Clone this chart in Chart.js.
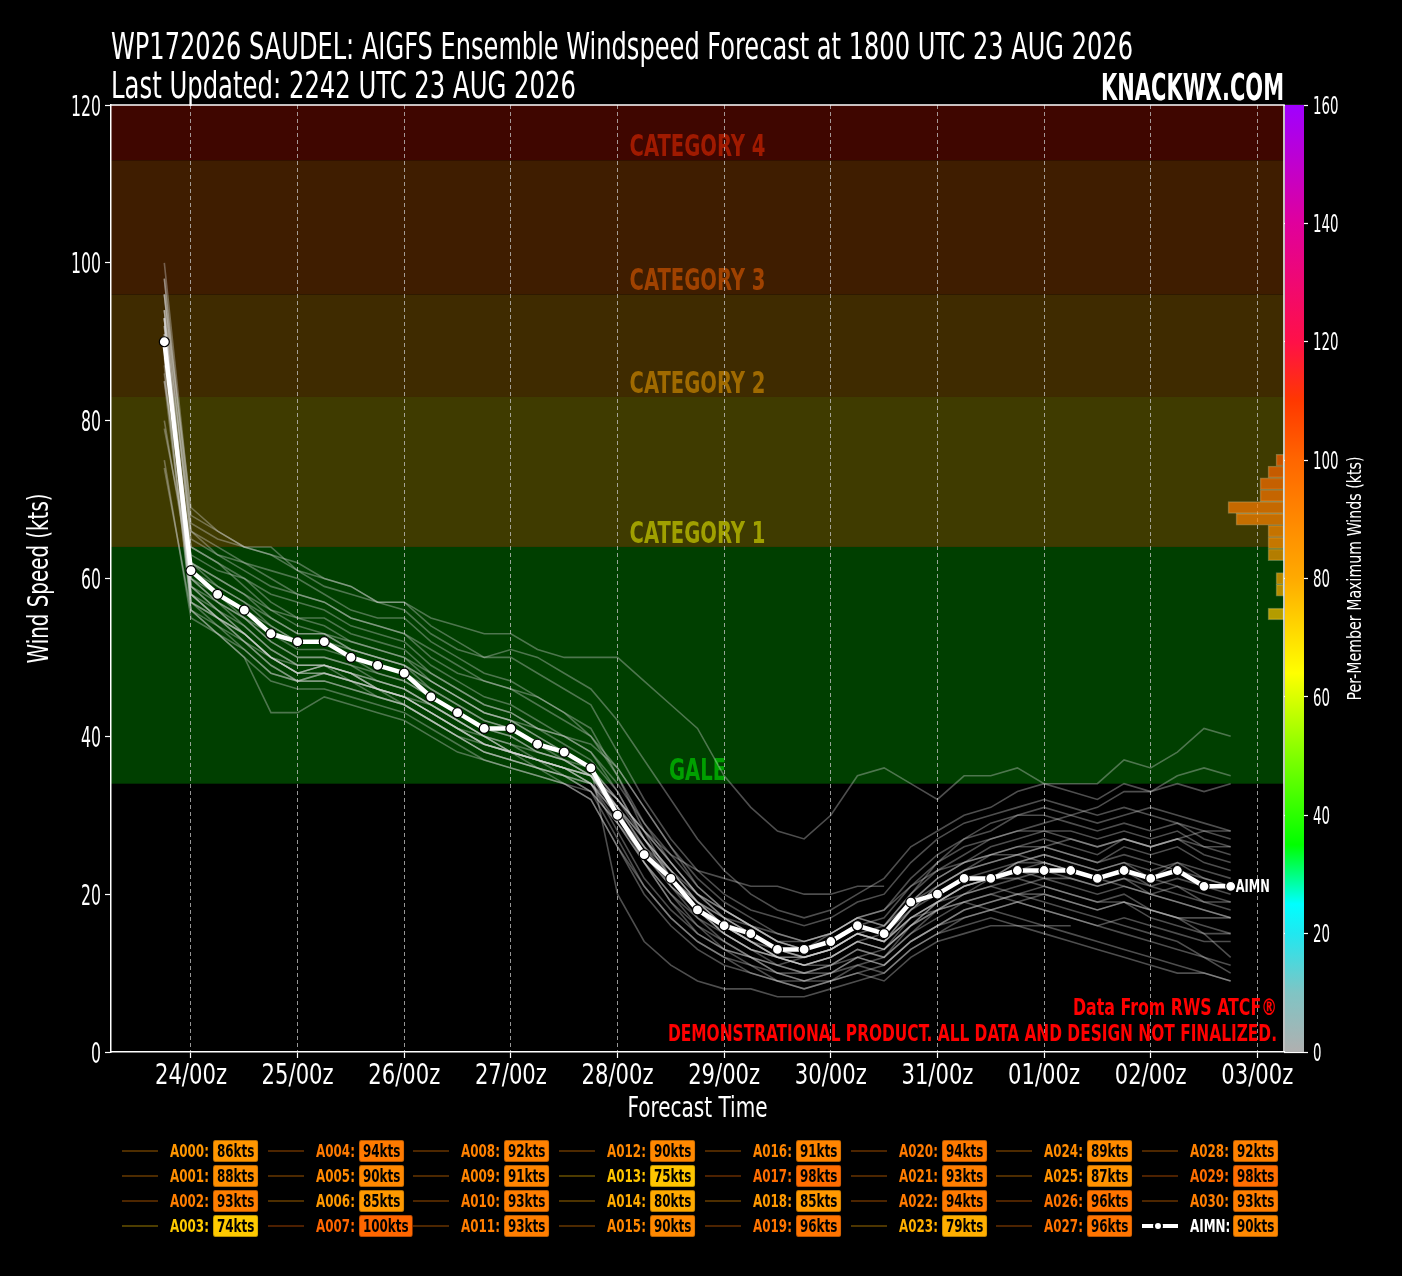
<!DOCTYPE html>
<html>
<head>
<meta charset="utf-8">
<script src="https://cdn.jsdelivr.net/npm/chart.js@4.4.1/dist/chart.umd.min.js"></script>
<style>
  html, body { margin: 0; padding: 0; background: #000; }
  #wrap { position: relative; width: 1402px; height: 1276px; }
  #legend { position: absolute; left: 0; top: 0; width: 1402px; height: 1276px; pointer-events: none;
            font-family: 'DejaVu Sans Condensed', 'Liberation Sans Narrow', 'DejaVu Sans', sans-serif; }
  .lg { position: absolute; height: 22px; width: 150px; }
  .lg-line { position: absolute; left: 0; top: 10px; width: 36px; height: 2px; }
  .lg-name { position: absolute; left: 48px; top: 0; line-height: 22px; font-size: 17px; font-weight: bold;
             transform: scaleX(0.78); transform-origin: 0 50%; white-space: nowrap; }
  .lg-box { position: absolute; left: 91px; top: 0; height: 20px; line-height: 20px; padding: 0 4px;
            font-size: 17px; font-weight: bold; color: #000; border: 1px solid rgba(0,0,0,0.28); border-radius: 3px;
            transform: scaleX(0.78); transform-origin: 0 50%; white-space: nowrap; }
  .lg-dot { position: absolute; left: 11px; top: -5px; width: 10px; height: 10px; border-radius: 50%;
            background: #fff; border: 2px solid #000; box-sizing: border-box; }
</style>
</head>
<body>
<div id="wrap">
  <canvas id="chart" width="1402" height="1276"></canvas>
  <div id="legend"></div>
</div>
<script>
// forecast hours from 23/18z
var hours = [0,6,12,18,24,30,36,42,48,54,60,66,72,78,84,90,96,102,108,114,120,
             126,132,138,144,150,156,162,168,174,180,186,192,198,204,210,216,222,228,234,240];
var tickHours = [6,30,54,78,102,126,150,174,198,222,246];
var tickLabels = ["24/00z","25/00z","26/00z","27/00z","28/00z","29/00z","30/00z","31/00z","01/00z","02/00z","03/00z"];

// ensemble mean
var meanName = "AIMN";
var meanWinds = [90, 61,58,56,53, 52,52,50,49, 48,45,43,41, 41,39,38,36, 30,25,22,18,
                 16,15,13,13, 14,16,15,19, 20,22,22,23, 23,23,22,23, 22,23,21,21];

// members (kts, 6-hourly)
var A000 = [86, 58,55,52,50, 48,49,48,47, 46,44,42,40, 38,37,36,35, 30,25,21,18, 15,13,12,11, 12,14,13,17, 19,21,22,23, 22,21,20,21, 20,21,19,18];
var A001 = [88, 63,61,60,58, 57,56,54,53, 52,49,47,45, 44,42,40,38, 33,27,23,19, 17,16,14,13, 15,17,16,20, 24,26,27,28, 28,27,26,27, 26,27,25,24];
var A002 = [93, 57,54,51,48, 47,48,47,46, 45,43,41,39, 38,37,36,34, 28,22,18,15, 13,12,10,10, 11,13,12,15, 17,19,20,21, 22,22,21,22, 20,19,18,17];
var A003 = [74, 56,53,51,48, 47,47,46,45, 44,42,40,38, 37,36,35,34, 31,26,21,17, 14,12,11,12, 13,15,14,18, 21,23,24,25, 26,25,24,25, 24,23,22,21];
var A004 = [94, 66,64,62,61, 60,58,56,55, 55,52,50,48, 47,45,43,40, 36,31,26,21, 18,16,14,14, 15,17,18,22, 25,27,29,30, 30,29,28,29, 28,29,27,26];
var A005 = [90, 58,55,53,50, 48,49,48,46, 45,43,41,39, 38,37,36,34, 29,24,20,16, 14,12,10,9, 10,12,11,14, 16,18,19,20, 21,20,19,20, 18,17,16,15];
var A006 = [85, 64,62,60,57, 55,54,52,51, 50,47,45,43, 42,40,38,36, 32,28,24,20, 17,15,13,13, 14,16,15,19, 22,24,25,26, 26,25,24,26, 25,26,24,23];
var A007 = [100, 68,66,64,63, 61,60,59,57, 57,54,52,50, 50,48,46,44, 38,32,27,23, 20,18,17,16, 17,19,20,24, 27,29,30,31, 32,31,30,31, 30,29,28,28];
var A008 = [92, 60,58,56,54, 52,52,51,50, 49,47,45,43, 42,40,38,36, 31,24,19,15, 13,11,10,9, 9,10,9,12, 14,15,16,16, 16,16,null,null, null,null,null,null];
var A009 = [91, 59,56,54,51, 49,49,47,46, 45,43,41,39, 38,37,35,33, 27,21,17,14, 12,11,9,8, 9,11,12,16, 19,21,22,24, 25,24,23,24, 22,21,20,19];
var A010 = [93, 57,55,53,50, 48,48,47,46, 44,42,40,38, 37,36,35,33, 29,25,22,19, 17,15,13,12, 13,15,14,17, 18,19,18,17, 16,15,14,13, 12,11,10,9];
var A011 = [93, 56,54,52,49, 47,48,47,45, 44,42,40,39, 38,36,35,34, 30,26,23,20, 18,16,15,14, 15,17,16,19, 21,23,24,25, 26,27,26,27, 26,27,28,27];
var A012 = [90, 58,56,53,50, 49,49,48,46, 45,43,41,40, 38,37,36,35, 31,27,22,18, 15,13,11,10, 10,11,10,13, 15,17,18,19, 20,19,18,19, 18,17,15,12];
var A013 = [75, 55,53,50,47, 46,46,45,44, 43,41,39,37, 36,35,34,32, 26,20,16,13, 11,10,9,9, 10,12,13,16, 18,20,21,22, 23,22,21,22, 21,22,21,20];
var A014 = [80, 60,57,55,53, 51,51,50,48, 47,45,43,41, 40,38,37,35, 32,28,25,23, 22,21,21,20, 20,21,21,null, null,null,null,null, null,null,null,null, null,null,null,null];
var A015 = [90, 60,57,55,52, 50,50,49,47, 46,44,42,40, 39,38,37,35, 30,24,19,16, 13,12,11,10, 11,13,12,15, 18,20,22,23, 24,23,22,23, 22,24,23,22];
var A016 = [91, 59,57,54,51, 49,49,48,46, 45,44,42,40, 38,37,36,35, 32,28,24,20, 18,16,14,13, 14,16,15,18, 20,22,23,24, 24,23,22,23, 21,20,19,19];
var A017 = [98, 67,65,64,63, 62,60,59,57, 57,55,54,53, 53,51,50,50, 50,47,44,41, 35,31,28,27, 30,35,36,34, 32,35,35,36, 34,34,34,37, 36,38,41,40];
var A018 = [85, 57,55,52,49, 47,47,46,45, 44,42,40,38, 37,36,34,32, 26,21,17,14, 12,10,9,8, 9,10,11,14, 16,17,18,19, 18,17,16,17, 16,15,14,14];
var A019 = [96, 65,63,61,59, 58,57,55,54, 53,51,49,47, 46,44,42,40, 35,29,24,20, 17,15,13,12, 13,15,16,20, 23,25,27,28, 29,30,29,30, 31,30,29,28];
var A020 = [94, 61,58,55,52, 50,50,49,48, 47,45,43,41, 40,38,37,36, 32,27,23,19, 16,14,12,11, 12,14,13,16, 19,21,22,24, 25,24,23,24, 23,24,22,21];
var A021 = [93, 58,55,53,50, 48,49,48,47, 46,44,42,40, 39,37,36,34, 30,25,21,18, 16,14,12,11, 12,14,15,19, 22,24,26,27, 28,28,27,28, 27,28,26,25];
var A022 = [94, 62,60,58,56, 55,55,53,52, 51,48,46,44, 43,41,40,38, 34,29,25,21, 18,16,14,13, 14,16,17,21, 24,27,28,30, 31,30,31,33, 33,35,36,35];
var A023 = [79, 62,60,58,55, 53,53,51,50, 49,47,45,43, 42,41,40,39, 36,31,26,22, 19,17,15,14, 15,17,18,21, 23,24,25,25, 24,23,22,21, 20,19,18,17];
var A024 = [89, 61,59,57,54, 52,52,50,49, 48,46,44,42, 41,39,38,36, 20,14,11,9, 8,8,7,7, 8,9,10,13, 15,16,17,16, 15,14,13,12, 11,10,10,9];
var A025 = [87, 56,53,50,43, 43,45,44,43, 42,40,38,37, 36,35,34,33, 29,24,20,17, 15,13,12,12, 13,15,14,17, 19,20,21,20, 19,18,17,16, 15,14,12,11];
var A026 = [96, 69,66,64,64, 61,59,58,57, 56,53,51,50, 51,50,48,46, 42,37,32,27, 23,20,18,17, 18,20,22,26, 28,30,31,33, 34,33,32,34, 33,34,33,34];
var A027 = [96, 64,62,59,56, 54,53,51,50, 49,46,44,42, 41,39,37,35, 31,27,23,19, 16,14,12,12, 13,15,14,17, 19,21,22,22, 21,20,19,19, 18,17,17,17];
var A028 = [92, 59,56,53,50, 48,48,47,46, 45,43,41,39, 38,37,36,35, 31,26,22,19, 16,14,12,11, 11,12,11,14, 16,18,19,20, 20,19,18,19, 17,16,15,15];
var A029 = [98, 66,63,62,60, 58,57,55,54, 53,50,48,47, 46,45,43,41, 35,28,22,18, 15,13,12,11, 12,14,13,16, 18,19,20,19, 18,17,16,15, 14,13,12,10];
var A030 = [93, 62,59,57,55, 53,53,52,51, 50,48,46,44, 43,41,39,37, 33,27,22,18, 16,14,13,12, 13,15,14,18, 21,23,25,26, 27,26,25,27, 26,27,26,26];

var memberSeries = [A000,A001,A002,A003,A004,A005,A006,A007,A008,A009,A010,A011,A012,A013,A014,A015,
                    A016,A017,A018,A019,A020,A021,A022,A023,A024,A025,A026,A027,A028,A029,A030];
var memberNames = ["A000","A001","A002","A003","A004","A005","A006","A007","A008","A009","A010","A011","A012","A013","A014","A015",
                   "A016","A017","A018","A019","A020","A021","A022","A023","A024","A025","A026","A027","A028","A029","A030"];
var memberMax = [86,88,93,74,94,90,85,100,92,91,93,93,90,75,80,90,91,98,85,96,94,93,94,79,89,87,96,96,92,98,93];

// per-member max wind histogram (colorbar scale, 2 kt bins)
var histBins = [101,99,97,95,93,91,89,87,85,81,79,75];
var histCounts = [1,2,3,3,7,6,2,2,2,1,1,2];
var histBinWidth = 2;

// intensity bands
var bandEdges = [0,34,64,83,96,113,120];
var bandNames = ["","GALE","CATEGORY 1","CATEGORY 2","CATEGORY 3","CATEGORY 4"];
var bandFills = ["#000000","#003f00","#3f3b00","#3f2b00","#3f1d00","#3f0600"];
var bandTextColors = ["","#00a000","#a0a000","#a06a00","#a04200","#a01a00"];

// colorbar
var cmapValues = [0,10,20,25,35,50,64,80,100,110,120,140,160];
var cmapColors = ["#b0b0b0","#80c4c4","#20e8f0","#00ffff","#00ff00","#80ff00","#ffff00","#ffaa00","#ff6600","#ff3800","#ff1048","#e0009c","#a000ff"];

var FONT_DRAW = "'DejaVu Sans Condensed', 'DejaVu Sans', sans-serif";

function hexRgb(h) {
  return [parseInt(h.substr(1,2),16), parseInt(h.substr(3,2),16), parseInt(h.substr(5,2),16)];
}
function cmapRgb(v) {
  if (v <= cmapValues[0]) return hexRgb(cmapColors[0]);
  for (var i = 1; i < cmapValues.length; i++) {
    if (v <= cmapValues[i]) {
      var t = (v - cmapValues[i-1]) / (cmapValues[i] - cmapValues[i-1]);
      var a = hexRgb(cmapColors[i-1]), b = hexRgb(cmapColors[i]);
      return [0,1,2].map(function(k) { return Math.round(a[k] + (b[k] - a[k]) * t); });
    }
  }
  return hexRgb(cmapColors[cmapColors.length - 1]);
}
function cmap(v, alpha) {
  var c = cmapRgb(v);
  return 'rgba(' + c[0] + ',' + c[1] + ',' + c[2] + ',' + (alpha == null ? 1 : alpha) + ')';
}

// text squeezed horizontally to mimic the condensed face of the original
function drawText(ctx, text, x, y, o) {
  ctx.save();
  ctx.font = (o.weight || 'normal') + ' ' + o.size + 'px ' + FONT_DRAW;
  ctx.fillStyle = o.color || '#fff';
  ctx.textBaseline = o.baseline || 'alphabetic';
  ctx.textAlign = o.align || 'left';
  var sx = o.width ? o.width / ctx.measureText(text).width : (o.sx || 1);
  ctx.translate(x, y);
  if (o.rotate) ctx.rotate(o.rotate);
  ctx.scale(sx, 1);
  ctx.fillText(text, 0, 0);
  ctx.restore();
}
function digitScale(ctx, size, digitWidth) {
  ctx.save();
  ctx.font = size + 'px ' + FONT_DRAW;
  var w = ctx.measureText('0').width;
  ctx.restore();
  return digitWidth / w;
}

function toPoints(arr) {
  return hours.map(function(h, i) { return {x: h, y: arr[i]}; });
}

var bandsPlugin = {
  id: 'bands',
  beforeDraw: function(chart) {
    var ctx = chart.ctx, area = chart.chartArea, y = chart.scales.y;
    ctx.save();
    ctx.fillStyle = '#000';
    ctx.fillRect(0, 0, chart.width, chart.height);
    for (var i = 0; i < bandFills.length; i++) {
      var top = y.getPixelForValue(bandEdges[i + 1]), bot = y.getPixelForValue(bandEdges[i]);
      ctx.fillStyle = bandFills[i];
      ctx.fillRect(area.left, top, area.right - area.left, bot - top);
    }
    ctx.font = 'bold 31px ' + FONT_DRAW;
    var sx = 136 / ctx.measureText('CATEGORY 4').width;
    for (var j = 1; j < bandNames.length; j++) {
      drawText(ctx, bandNames[j], (area.left + area.right) / 2, y.getPixelForValue(bandEdges[j]) - 4,
        {size: 31, weight: 'bold', color: bandTextColors[j], align: 'center', sx: sx});
    }
    ctx.restore();
  }
};

var overlayPlugin = {
  id: 'overlay',
  afterDatasetsDraw: function(chart) {
    var ctx = chart.ctx, area = chart.chartArea, cb = chart.scales.yc;
    ctx.save();
    // colorbar
    var top = cb.getPixelForValue(160), bot = cb.getPixelForValue(0);
    var g = ctx.createLinearGradient(0, bot, 0, top);
    cmapValues.forEach(function(v, i) { g.addColorStop(v / 160, cmapColors[i]); });
    ctx.fillStyle = g;
    ctx.fillRect(area.right + 1, top, 19, bot - top);
    // frame top / right
    ctx.strokeStyle = '#fff';
    ctx.lineWidth = 1.5;
    ctx.beginPath();
    ctx.moveTo(area.left, area.top);
    ctx.lineTo(area.right, area.top);
    ctx.lineTo(area.right, area.bottom);
    ctx.stroke();
    ctx.restore();

    // end label of the mean
    var meta = chart.getDatasetMeta(0);
    var last = meta.data[meta.data.length - 1];
    drawText(ctx, meanName, last.x + 5, last.y + 6, {size: 17, weight: 'bold', color: '#fff', width: 34});

    // disclaimer
    drawText(ctx, 'Data From RWS ATCF\u00ae', area.right - 7, 1015, {size: 23, weight: 'bold', color: '#ff0000', align: 'right', width: 204});
    drawText(ctx, 'DEMONSTRATIONAL PRODUCT. ALL DATA AND DESIGN NOT FINALIZED.', area.right - 7, 1041,
      {size: 23, weight: 'bold', color: '#ff0000', align: 'right', width: 609});
  },
  afterDraw: function(chart) {
    var ctx = chart.ctx, area = chart.chartArea;
    var xs = chart.scales.x, ys = chart.scales.y, cs = chart.scales.yc;

    // tick labels, from the scales' own ticks
    xs.ticks.forEach(function(t, i) {
      drawText(ctx, tickLabels[i], xs.getPixelForValue(t.value), 1084, {size: 29, color: '#fff', align: 'center', width: 72});
    });
    var syl = digitScale(ctx, 29, 10);
    ys.ticks.forEach(function(t) {
      drawText(ctx, String(t.value), area.left - 10, ys.getPixelForValue(t.value) + 10.5, {size: 29, color: '#fff', align: 'right', sx: syl});
    });
    var scl = digitScale(ctx, 24, 8.5);
    cs.ticks.forEach(function(t) {
      drawText(ctx, String(t.value), area.right + 29, cs.getPixelForValue(t.value) + 8.7, {size: 24, color: '#fff', sx: scl});
    });

    drawText(ctx, 'WP172026 SAUDEL: AIGFS Ensemble Windspeed Forecast at 1800 UTC 23 AUG 2026', area.left, 59,
      {size: 38, color: '#fff', width: 1022});
    drawText(ctx, 'Last Updated: 2242 UTC 23 AUG 2026', area.left, 98, {size: 38, color: '#fff', width: 465});
    drawText(ctx, 'KNACKWX.COM', area.right, 100, {size: 37, weight: 'bold', color: '#fff', align: 'right', width: 183});
    drawText(ctx, 'Wind Speed (kts)', 41, (area.top + area.bottom) / 2,
      {size: 28, color: '#fff', align: 'center', baseline: 'middle', rotate: -Math.PI / 2, width: 170});
    drawText(ctx, 'Forecast Time', (area.left + area.right) / 2, 1117, {size: 28, color: '#fff', align: 'center', width: 140});
    drawText(ctx, 'Per-Member Maximum Winds (kts)', 1356, (area.top + area.bottom) / 2,
      {size: 20, color: '#fff', align: 'center', baseline: 'middle', rotate: -Math.PI / 2, width: 244});
  }
};

var datasets = [{
  label: meanName,
  data: toPoints(meanWinds),
  xAxisID: 'x', yAxisID: 'y',
  borderColor: '#ffffff',
  borderWidth: 4.5,
  borderJoinStyle: 'round',
  pointRadius: 5,
  pointBackgroundColor: '#ffffff',
  pointBorderColor: '#000000',
  pointBorderWidth: 1.2
}, {
  type: 'bar',
  label: 'hist',
  indexAxis: 'y',
  xAxisID: 'xh', yAxisID: 'yc',
  data: histBins.map(function(b, i) { return {x: histCounts[i], y: b}; }),
  backgroundColor: function(c) { return cmap(histBins[c.dataIndex], 0.7); },
  borderColor: 'rgba(255,230,170,0.35)',
  borderWidth: 1,
  borderSkipped: false,
  barThickness: function(c) {
    var s = c.chart.scales.yc;
    return Math.abs(s.getPixelForValue(0) - s.getPixelForValue(histBinWidth));
  },
  barPercentage: 1,
  categoryPercentage: 1
}];
memberSeries.forEach(function(s, i) {
  datasets.push({
    label: memberNames[i],
    data: toPoints(s),
    xAxisID: 'x', yAxisID: 'y',
    borderColor: 'rgba(215,215,215,0.36)',
    borderWidth: 1.6,
    pointRadius: 0,
    spanGaps: false
  });
});

new Chart(document.getElementById('chart'), {
  type: 'line',
  data: { datasets: datasets },
  plugins: [bandsPlugin, overlayPlugin],
  options: {
    responsive: false,
    animation: false,
    events: [],
    layout: { padding: { top: 105, left: 0, right: 0, bottom: 0 } },
    plugins: { legend: { display: false }, tooltip: { enabled: false } },
    scales: {
      x: {
        type: 'linear', axis: 'x', position: 'bottom', min: -12, max: 252,
        afterBuildTicks: function(s) { s.ticks = tickHours.map(function(v) { return {value: v}; }); },
        afterFit: function(s) { s.height = 224; },
        ticks: { display: false, autoSkip: false, maxRotation: 0 },
        grid: { color: 'rgba(200,200,200,0.75)', lineWidth: 1, tickLength: 6, tickColor: '#fff', tickWidth: 1.2 },
        border: { color: '#fff', width: 1.5, dash: [4, 3] }
      },
      y: {
        type: 'linear', axis: 'y', position: 'left', min: 0, max: 120,
        afterFit: function(s) { s.width = 111; },
        ticks: { display: false, stepSize: 20 },
        grid: { drawOnChartArea: false, tickLength: 6, tickColor: '#fff', tickWidth: 1.2 },
        border: { color: '#fff', width: 1.5 }
      },
      yc: {
        type: 'linear', axis: 'y', position: 'right', min: 0, max: 160, offset: false,
        afterFit: function(s) { s.width = 118; },
        ticks: { display: false, stepSize: 20 },
        grid: { drawOnChartArea: false, offset: false, tickLength: 24, tickColor: '#fff', tickWidth: 1.2 },
        border: { display: false }
      },
      xh: {
        type: 'linear', axis: 'x', position: 'bottom', display: false, reverse: true, min: 0, max: 146.6,
        offset: false, grid: { offset: false }
      }
    }
  }
});

// legend
var legend = document.getElementById('legend');
var entries = memberNames.map(function(n, i) { return {name: n, max: memberMax[i], mean: false}; });
entries.push({name: meanName, max: meanWinds[0], mean: true});
entries.forEach(function(e, k) {
  var col = Math.floor(k / 4), row = k % 4;
  var d = document.createElement('div');
  d.className = 'lg';
  d.style.left = (122 + col * 145.7) + 'px';
  d.style.top = (1140 + row * 25) + 'px';
  var line = document.createElement('div');
  line.className = 'lg-line';
  if (e.mean) {
    line.style.background = '#fff';
    line.style.height = '4px';
    line.style.top = '9px';
    var dot = document.createElement('div');
    dot.className = 'lg-dot';
    dot.style.top = '-3px';
    line.appendChild(dot);
  } else {
    line.style.background = cmap(e.max, 0.3);
  }
  var name = document.createElement('div');
  name.className = 'lg-name';
  name.textContent = e.name + ':';
  name.style.color = e.mean ? '#fff' : cmap(e.max);
  var box = document.createElement('div');
  box.className = 'lg-box';
  box.textContent = e.max + 'kts';
  box.style.background = cmap(e.max);
  d.appendChild(line);
  d.appendChild(name);
  d.appendChild(box);
  legend.appendChild(d);
});
</script>
</body>
</html>
